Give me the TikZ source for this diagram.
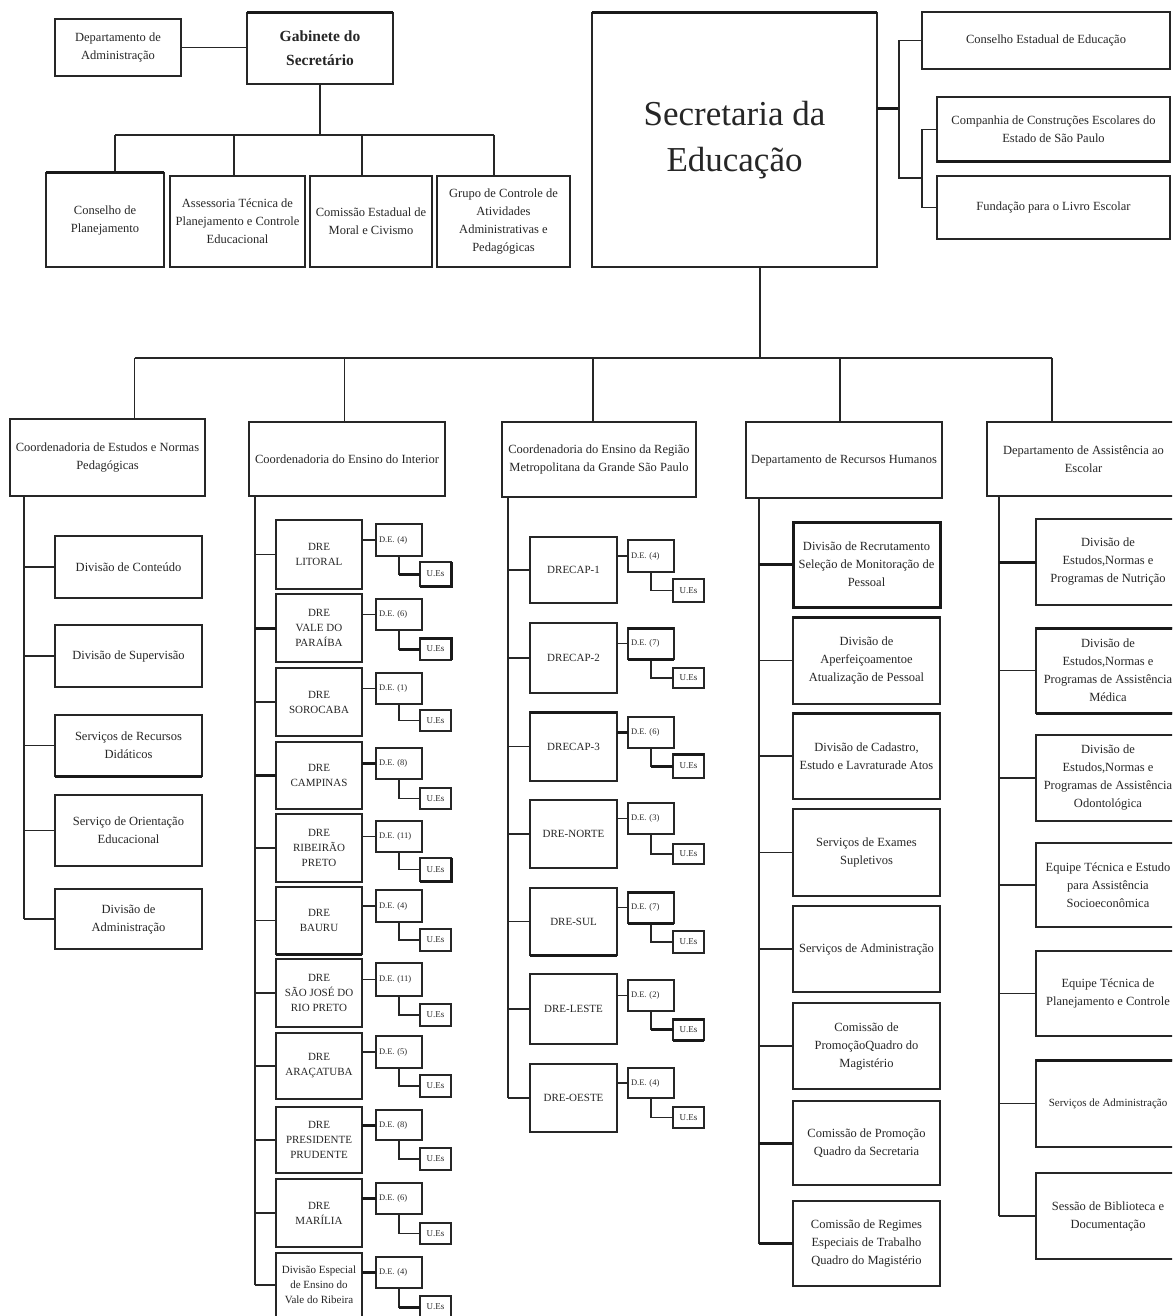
\documentclass[tikz,border=0pt]{standalone}
\usepackage{fontspec}
\setmainfont{Liberation Serif}
\newcommand\bx[7][]{\node[box,minimum width={(#5-#3)*1pt},minimum height={(#6-#4)*1pt},#1] (#2) at ({(#3+#5)/2},{(#4+#6)/2}) {#7};}
\newcommand\cii[9]{%
  \bx[drebox]{#1}{276}{#2}{362}{#3}{#4}%
  \bx[debox]{#1d}{376}{#5}{422}{#6}{#7}%
  \bx[uebox]{#1u}{420}{#8}{451}{#9}{U.Es}%
  \draw[ln] (#1d.west) -- (#1d.west -| #1.east);%
  \draw[ln] (#1d.south) |- (#1u.west);%
  \draw[ln] (v2 |- #1.west) -- (#1.west);}
\newcommand\ciii[9]{%
  \bx[drebox]{#1}{530}{#2}{617}{#3}{#4}%
  \bx[debox]{#1d}{628}{#5}{674}{#6}{#7}%
  \bx[uebox]{#1u}{673}{#8}{704}{#9}{U.Es}%
  \draw[ln] (#1d.west) -- (#1d.west -| #1.east);%
  \draw[ln] (#1d.south) |- (#1u.west);%
  \draw[ln] (v3 |- #1.west) -- (#1.west);}
\newcommand\kid[7]{\bx{#2}{#3}{#4}{#5}{#6}{#7}\draw[ln] (#1 |- #2.west) -- (#2.west);}
\begin{document}
\begin{tikzpicture}[x=1pt,y=-1pt,
  box/.style={draw=black!85,line width=1.3pt,inner sep=0pt,outer sep=0pt,align=center,
    font=\fontsize{12.5}{18}\selectfont,text=black!85},
  drebox/.style={font=\fontsize{11}{15}\selectfont},
  debox/.style={font=\fontsize{8.5}{10}\selectfont,text width=40pt,align=left,inner xsep=3pt},
  uebox/.style={font=\fontsize{9}{10}\selectfont},
  ln/.style={draw=black!85,line width=1.3pt},
  thk/.style={draw=black!90,line width=3pt}]
\useasboundingbox (0,0) rectangle (1172,1316);
\clip (0,0) rectangle (1172,1316);
\fill[white] (0,0) rectangle (1172,1316);

% ---------- top left ----------
\bx{da}{55}{19}{181}{76}{Departamento de\\Administração}
\bx[font=\fontsize{15.5}{24}\selectfont\bfseries]{gab}{247}{13}{393}{84}{Gabinete do\\Secretário}
\bx{cp}{46}{173}{164}{267}{Conselho de\\Planejamento}
\bx{as}{170}{176}{305}{267}{Assessoria Técnica de\\Planejamento e Controle\\Educacional}
\bx{co}{310}{176}{432}{267}{Comissão Estadual de\\Moral e Civismo}
\bx{gc}{437}{176}{570}{267}{Grupo de Controle de\\Atividades\\Administrativas e\\Pedagógicas}
\draw[ln] (da.east) -- (da.east -| gab.west);
\coordinate (tbl) at (115,135);
\coordinate (tbr) at (494,135);
\coordinate (tdb) at (234,135);
\coordinate (tdc) at (362,135);
\draw[ln] (gab.south) -- (gab.south |- tbl);
\draw[ln] (tbl) -- (tbr);
\draw[ln] (tbl) -- (tbl |- cp.north);
\draw[ln] (tdb) -- (tdb |- as.north);
\draw[ln] (tdc) -- (tdc |- co.north);
\draw[ln] (tbr) -- (tbr |- gc.north);

% ---------- Secretaria ----------
\bx[font=\fontsize{35}{46}\selectfont]{sec}{592}{13}{877}{267}{Secretaria da\\Educação}
\bx{cee}{922}{12}{1170}{69}{Conselho Estadual de Educação}
\bx{cc}{937}{97}{1170}{162}{Companhia de Construções Escolares do\\Estado de São Paulo}
\bx{fu}{937}{176}{1170}{239}{Fundação para o Livro Escolar}
\coordinate (j1) at (899,109);
\coordinate (j2) at (922,178);
\draw[thk] (j1 -| sec.east) -- (j1);
\draw[ln] (cee.west) -| (j1 |- j2) -- (j2);
\draw[ln] (cc.west) -| (j2) |- (fu.west);

% ---------- level 2 ----------
\bx{b1}{10}{419}{205}{496}{Coordenadoria de Estudos e Normas\\Pedagógicas}
\bx{b2}{249}{422}{445}{496}{Coordenadoria do Ensino do Interior}
\bx{b3}{502}{422}{696}{497}{Coordenadoria do Ensino da Região\\Metropolitana da Grande São Paulo}
\bx{b4}{746}{422}{942}{498}{Departamento de Recursos Humanos}
\bx{b5}{987}{422}{1180}{496}{Departamento de Assistência ao\\Escolar}
\coordinate (trx) at (760,358);
\coordinate (mbl) at (134.5,358);
\coordinate (md2) at (344.5,358);
\coordinate (md3) at (593,358);
\coordinate (md4) at (840,358);
\coordinate (mbr) at (1052,358);
\draw[ln] (trx |- sec.south) -- (trx);
\draw[ln] (mbl) -- (mbr);
\draw[ln] (mbl) -- (mbl |- b1.north);
\draw[ln] (md2) -- (md2 |- b2.north);
\draw[ln] (md3) -- (md3 |- b3.north);
\draw[ln] (md4) -- (md4 |- b4.north);
\draw[ln] (mbr) -- (mbr |- b5.north);

% ---------- column 1 ----------
\coordinate (v1) at (24,496);
\kid{v1}{c1a}{55}{536}{202}{598}{Divisão de Conteúdo}
\kid{v1}{c1b}{55}{625}{202}{687}{Divisão de Supervisão}
\kid{v1}{c1c}{55}{715}{202}{776}{Serviços de Recursos\\Didáticos}
\kid{v1}{c1d}{55}{795}{202}{866}{Serviço de Orientação\\Educacional}
\kid{v1}{c1e}{55}{889}{202}{949}{Divisão de\\Administração}
\draw[ln] (v1) -- (v1 |- c1e.west);

% ---------- column 2 ----------
\coordinate (v2) at (255,496);
\cii{lit}{520}{589}{DRE\\LITORAL}{524}{556}{D.E. (4)}{562}{586}
\cii{vp}{594}{662}{DRE\\VALE DO\\PARAÍBA}{599}{630}{D.E. (6)}{638}{660}
\cii{sor}{668}{736}{DRE\\SOROCABA}{673}{704}{D.E. (1)}{710}{731}
\cii{cam}{742}{809}{DRE\\CAMPINAS}{748}{779}{D.E. (8)}{788}{809}
\cii{rib}{814}{882}{DRE\\RIBEIRÃO\\PRETO}{821}{852}{D.E. (11)}{858}{881}
\cii{bau}{887}{954}{DRE\\BAURU}{890}{922}{D.E. (4)}{929}{951}
\cii{sjr}{959}{1027}{DRE\\SÃO JOSÉ DO\\RIO PRETO}{963}{996}{D.E. (11)}{1004}{1026}
\cii{ara}{1033}{1099}{DRE\\ARAÇATUBA}{1036}{1068}{D.E. (5)}{1075}{1097}
\cii{pp}{1107}{1173}{DRE\\PRESIDENTE\\PRUDENTE}{1110}{1140}{D.E. (8)}{1148}{1170}
\cii{mar}{1179}{1247}{DRE\\MARÍLIA}{1183}{1214}{D.E. (6)}{1223}{1244}
\cii{vr}{1253}{1317}{Divisão Especial\\de Ensino do\\Vale do Ribeira}{1257}{1288}{D.E. (4)}{1296}{1318}
\draw[ln] (v2) -- (v2 |- vr.west);

% ---------- column 3 ----------
\coordinate (v3) at (508,497);
\ciii{dc1}{537}{603}{DRECAP-1}{540}{572}{D.E. (4)}{579}{602}
\ciii{dc2}{623}{693}{DRECAP-2}{628}{659}{D.E. (7)}{668}{688}
\ciii{dc3}{712}{781}{DRECAP-3}{717}{748}{D.E. (6)}{754}{778}
\ciii{dn}{800}{868}{DRE-NORTE}{803}{834}{D.E. (3)}{844}{864}
\ciii{dsu}{888}{955}{DRE-SUL}{892}{923}{D.E. (7)}{931}{953}
\ciii{dl}{974}{1044}{DRE-LESTE}{980}{1011}{D.E. (2)}{1019}{1040}
\ciii{dw}{1064}{1132}{DRE-OESTE}{1068}{1098}{D.E. (4)}{1107}{1128}
\draw[ln] (v3) -- (v3 |- dw.west);

% ---------- column 4 ----------
\coordinate (v4) at (759,498);
\kid{v4}{r1}{793}{522}{940}{607}{Divisão de Recrutamento\\Seleção de Monitoração de\\Pessoal}
\kid{v4}{r2}{793}{617}{940}{704}{Divisão de\\Aperfeiçoamentoe\\Atualização de Pessoal}
\kid{v4}{r3}{793}{713}{940}{799}{Divisão de Cadastro,\\Estudo e Lavraturade Atos}
\kid{v4}{r4}{793}{809}{940}{896}{Serviços de Exames\\Supletivos}
\kid{v4}{r5}{793}{906}{940}{992}{Serviços de Administração}
\kid{v4}{r6}{793}{1003}{940}{1089}{Comissão de\\PromoçãoQuadro do\\Magistério}
\kid{v4}{r7}{793}{1101}{940}{1185}{Comissão de Promoção\\Quadro da Secretaria}
\kid{v4}{r8}{793}{1201}{940}{1286}{Comissão de Regimes\\Especiais de Trabalho\\Quadro do Magistério}
\draw[ln] (v4) -- (v4 |- r8.west);

% ---------- column 5 ----------
\coordinate (v5) at (999,496);
\kid{v5}{s1}{1036}{519}{1180}{605}{Divisão de\\Estudos,Normas e\\Programas de Nutrição}
\kid{v5}{s2}{1036}{628}{1180}{713}{Divisão de\\Estudos,Normas e\\Programas de Assistência\\Médica}
\kid{v5}{s3}{1036}{735}{1180}{821}{Divisão de\\Estudos,Normas e\\Programas de Assistência\\Odontológica}
\kid{v5}{s4}{1036}{843}{1180}{927}{Equipe Técnica e Estudo\\para Assistência\\Socioeconômica}
\kid{v5}{s5}{1036}{951}{1180}{1036}{Equipe Técnica de\\Planejamento e Controle}
\bx[font=\fontsize{11}{16}\selectfont]{s6}{1036}{1060}{1180}{1147}{Serviços de Administração}
\draw[ln] (v5 |- s6.west) -- (s6.west);
\kid{v5}{s7}{1036}{1173}{1180}{1259}{Sessão de Biblioteca e\\Documentação}
\draw[ln] (v5) -- (v5 |- s7.west);

% ---------- heavier edges ----------
\draw[thk] (gab.north west) -- (gab.north east);
\draw[thk] (cp.north west) -- (cp.north east);
\draw[thk] (sec.north west) -- (sec.north east);
\draw[thk] (cc.south west) -- (cc.south east);
\draw[thk] (c1c.south west) -- (c1c.south east);
\draw[thk] (litu.north east) -- (litu.south east) -- (litu.south west);
\draw[thk] (litd.south |- litu.west) -- (litu.west);
\draw[thk] (v2 |- vp.west) -- (vp.west);
\draw[thk] (vpu.north west) -- (vpu.north east) -- (vpu.south east);
\draw[thk] (vpd.south |- vpu.west) -- (vpu.west);
\draw[thk] (v2 |- cam.west) -- (cam.west);
\draw[thk] (camd.west) -- (camd.west -| cam.east);
\draw[thk] (ribu.north east) -- (ribu.south east) -- (ribu.south west);
\draw[thk] (bau.south west) -- (bau.south east);
\draw[thk] (ppd.west) -- (ppd.west -| pp.east);
\draw[thk] (mard.west) -- (mard.west -| mar.east);
\draw[thk] (vrd.west) -- (vrd.west -| vr.east);
\draw[thk] (vrd.south |- vru.west) -- (vru.west);
\draw[thk] (dc2d.north west) -- (dc2d.north east);
\draw[thk] (dc2d.south west) -- (dc2d.south east);
\draw[thk] (dc3.north west) -- (dc3.north east);
\draw[thk] (dc3d.west) -- (dc3d.west -| dc3.east);
\draw[thk] (dc3u.north west) -- (dc3u.north east);
\draw[thk] (dc3d.south |- dc3u.west) -- (dc3u.west);
\draw[thk] (dsu.south west) -- (dsu.south east);
\draw[thk] (dsud.north west) -- (dsud.north east);
\draw[thk] (dsud.south west) -- (dsud.south east);
\draw[thk] (dlu.north west) -- (dlu.north east);
\draw[thk] (dlu.south west) -- (dlu.south east);
\draw[thk] (dld.south |- dlu.west) -- (dlu.west);
\draw[thk] (r1.north west) rectangle (r1.south east);
\draw[thk] (v4 |- r1.west) -- (r1.west);
\draw[thk] (r2.north west) -- (r2.north east);
\draw[thk] (r3.north west) -- (r3.north east);
\draw[thk] (v4 |- r7.west) -- (r7.west);
\draw[thk] (v4 |- r8.west) -- (r8.west);
\draw[thk] (v5 |- s1.west) -- (s1.west);
\draw[thk] (s2.north west) -- (s2.north east);
\draw[thk] (s2.south west) -- (s2.south east);
\draw[thk] (s6.north west) -- (s6.north east);
\end{tikzpicture}
\end{document}
